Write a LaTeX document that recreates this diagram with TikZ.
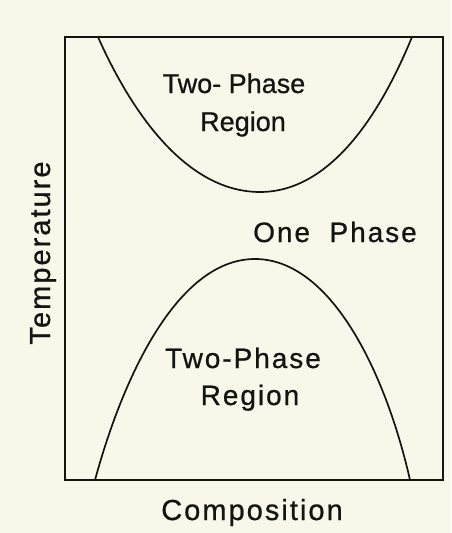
\documentclass[tikz,border=0pt]{standalone}
\usepackage{fontspec}
\setmainfont{Liberation Sans}
\usepackage{xcolor}
\usepackage{tikz}
\usetikzlibrary{positioning, calc}
\definecolor{paperbg}{RGB}{249,247,234}
\definecolor{inkdark}{RGB}{20,20,18}
\newfontfamily\labelfont{Liberation Sans}[FakeBold=0.7]
\newfontfamily\widelabelfont{Liberation Sans}[FakeBold=0.7, LetterSpace=7]
\tikzset{
    % Frame and phase boundaries
    frameline/.style={draw=inkdark, line width=1.8pt},
    boundary/.style={draw=inkdark, line width=1.7pt},
    % Text labels
    upperlabel/.style={font=\labelfont\fontsize{27}{30}\selectfont, text=inkdark, anchor=base, inner sep=0pt},
    lowerlabel/.style={font=\widelabelfont\fontsize{28}{32}\selectfont, text=inkdark, anchor=base, inner sep=0pt},
    axislabel/.style={font=\widelabelfont\fontsize{29}{32}\selectfont, text=inkdark, anchor=base, inner sep=0pt},
}
\begin{document}
\begin{tikzpicture}[x=1pt, y=-1pt]

% ============================================================
% Canvas
% ============================================================
\fill[paperbg] (0,0) rectangle (451,533);
\useasboundingbox (0,0) rectangle (451,533);

% ============================================================
% Frame
% ============================================================
\coordinate (tl) at (65,37);
\coordinate (br) at (443,480);
\draw[frameline] (tl) rectangle (br);

% ============================================================
% Upper two-phase boundary
% ============================================================
\coordinate (upL) at (98,37);
\coordinate (upMin) at (260,192);
\coordinate (upR) at (412,37);
\draw[boundary] (upL) .. controls (135,120) and (190,192) .. (upMin)
                      .. controls (330,192) and (380,115) .. (upR);

% ============================================================
% Lower two-phase boundary
% ============================================================
\coordinate (loL) at (95,480);
\coordinate (loMax) at (255,259);
\coordinate (loR) at (410,480);
\draw[boundary] (loL) .. controls (125,370) and (180,259) .. (loMax)
                      .. controls (330,259) and (385,370) .. (loR);

% ============================================================
% Labels
% ============================================================
\node[upperlabel] (twoU) at (234,93) {Two- Phase};
\node[upperlabel] (regU) at (243,131) {Region};
\node[lowerlabel] (one) at (335,242) {One\ \ Phase};
\node[lowerlabel] (twoL) at (243,368) {Two-Phase};
\node[lowerlabel] (regL) at (250,405) {Region};

\node[axislabel] (comp) at (252,520) {Composition};
\node[axislabel, rotate=90] (temp) at (50,253) {Temperature};

\end{tikzpicture}
\end{document}
